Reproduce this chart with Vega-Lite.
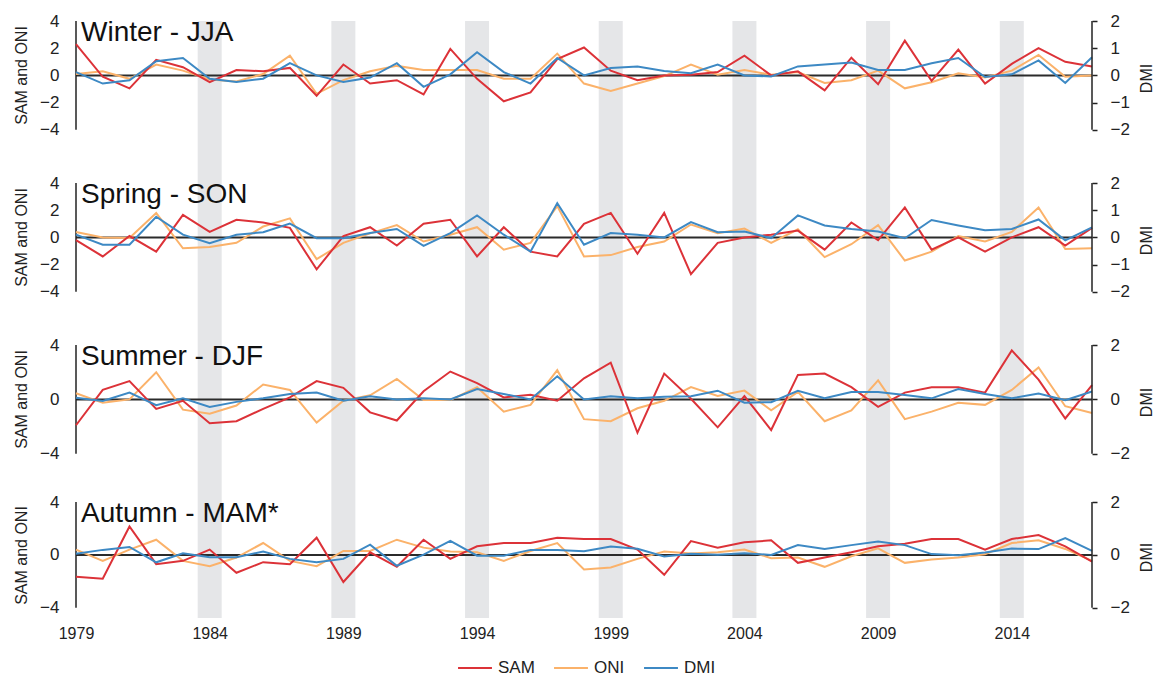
{
"$schema": "https://vega.github.io/schema/vega-lite/v6.json",
"padding": {"left": 13, "top": 9, "right": 0, "bottom": 0},
"background": "white",
"bounds": "flush",
"spacing": 0,
"config": {"view": {"stroke": null}, "font": "Liberation Sans"},
"datasets": {
"bands": [{"year":1984},{"year":1989},{"year":1994},{"year":1999},{"year":2004},{"year":2009},{"year":2014}],
"idx": [
{"season":"Winter","year":1979,"SAM":2.3,"ONI":0.1,"DMI":0.12},
{"season":"Winter","year":1980,"SAM":-0.1,"ONI":0.3,"DMI":-0.3},
{"season":"Winter","year":1981,"SAM":-0.95,"ONI":-0.25,"DMI":-0.18},
{"season":"Winter","year":1982,"SAM":1.15,"ONI":0.8,"DMI":0.52},
{"season":"Winter","year":1983,"SAM":0.6,"ONI":0.35,"DMI":0.64},
{"season":"Winter","year":1984,"SAM":-0.5,"ONI":-0.3,"DMI":-0.12},
{"season":"Winter","year":1985,"SAM":0.4,"ONI":-0.45,"DMI":-0.24},
{"season":"Winter","year":1986,"SAM":0.3,"ONI":0.1,"DMI":-0.12},
{"season":"Winter","year":1987,"SAM":0.55,"ONI":1.45,"DMI":0.45},
{"season":"Winter","year":1988,"SAM":-1.5,"ONI":-1.35,"DMI":0},
{"season":"Winter","year":1989,"SAM":0.8,"ONI":-0.35,"DMI":-0.24},
{"season":"Winter","year":1990,"SAM":-0.6,"ONI":0.3,"DMI":-0.08},
{"season":"Winter","year":1991,"SAM":-0.35,"ONI":0.7,"DMI":0.45},
{"season":"Winter","year":1992,"SAM":-1.4,"ONI":0.4,"DMI":-0.42},
{"season":"Winter","year":1993,"SAM":1.95,"ONI":0.4,"DMI":0.04},
{"season":"Winter","year":1994,"SAM":-0.25,"ONI":0.4,"DMI":0.85},
{"season":"Winter","year":1995,"SAM":-1.9,"ONI":-0.25,"DMI":0.12},
{"season":"Winter","year":1996,"SAM":-1.25,"ONI":-0.25,"DMI":-0.3},
{"season":"Winter","year":1997,"SAM":1.2,"ONI":1.6,"DMI":0.64},
{"season":"Winter","year":1998,"SAM":2.05,"ONI":-0.6,"DMI":0},
{"season":"Winter","year":1999,"SAM":0.35,"ONI":-1.15,"DMI":0.27},
{"season":"Winter","year":2000,"SAM":-0.35,"ONI":-0.6,"DMI":0.33},
{"season":"Winter","year":2001,"SAM":0,"ONI":-0.05,"DMI":0.16},
{"season":"Winter","year":2002,"SAM":0.05,"ONI":0.8,"DMI":0.08},
{"season":"Winter","year":2003,"SAM":0.25,"ONI":0.05,"DMI":0.4},
{"season":"Winter","year":2004,"SAM":1.45,"ONI":0.4,"DMI":0},
{"season":"Winter","year":2005,"SAM":0,"ONI":0.05,"DMI":-0.04},
{"season":"Winter","year":2006,"SAM":0.3,"ONI":0.25,"DMI":0.33},
{"season":"Winter","year":2007,"SAM":-1.1,"ONI":-0.55,"DMI":0.4},
{"season":"Winter","year":2008,"SAM":1.3,"ONI":-0.35,"DMI":0.47},
{"season":"Winter","year":2009,"SAM":-0.65,"ONI":0.35,"DMI":0.2},
{"season":"Winter","year":2010,"SAM":2.55,"ONI":-0.95,"DMI":0.2},
{"season":"Winter","year":2011,"SAM":-0.4,"ONI":-0.5,"DMI":0.45},
{"season":"Winter","year":2012,"SAM":1.9,"ONI":0.15,"DMI":0.64},
{"season":"Winter","year":2013,"SAM":-0.6,"ONI":-0.15,"DMI":-0.06},
{"season":"Winter","year":2014,"SAM":0.85,"ONI":0.35,"DMI":0.04},
{"season":"Winter","year":2015,"SAM":2.0,"ONI":1.5,"DMI":0.55},
{"season":"Winter","year":2016,"SAM":1.0,"ONI":-0.1,"DMI":-0.28},
{"season":"Winter","year":2017,"SAM":0.65,"ONI":0,"DMI":0.67},
{"season":"Spring","year":1979,"SAM":-0.2,"ONI":0.4,"DMI":0.1},
{"season":"Spring","year":1980,"SAM":-1.4,"ONI":0,"DMI":-0.27},
{"season":"Spring","year":1981,"SAM":0.1,"ONI":-0.05,"DMI":-0.27},
{"season":"Spring","year":1982,"SAM":-1.05,"ONI":1.8,"DMI":0.76},
{"season":"Spring","year":1983,"SAM":1.65,"ONI":-0.8,"DMI":0.1},
{"season":"Spring","year":1984,"SAM":0.4,"ONI":-0.7,"DMI":-0.21},
{"season":"Spring","year":1985,"SAM":1.3,"ONI":-0.4,"DMI":0.1},
{"season":"Spring","year":1986,"SAM":1.1,"ONI":0.8,"DMI":0.19},
{"season":"Spring","year":1987,"SAM":0.7,"ONI":1.4,"DMI":0.51},
{"season":"Spring","year":1988,"SAM":-2.35,"ONI":-1.6,"DMI":-0.03},
{"season":"Spring","year":1989,"SAM":0.1,"ONI":-0.4,"DMI":-0.03},
{"season":"Spring","year":1990,"SAM":0.75,"ONI":0.3,"DMI":0.16},
{"season":"Spring","year":1991,"SAM":-0.6,"ONI":0.9,"DMI":0.31},
{"season":"Spring","year":1992,"SAM":1.0,"ONI":-0.3,"DMI":-0.31},
{"season":"Spring","year":1993,"SAM":1.3,"ONI":0.2,"DMI":0.16},
{"season":"Spring","year":1994,"SAM":-1.4,"ONI":0.75,"DMI":0.81},
{"season":"Spring","year":1995,"SAM":0.75,"ONI":-0.9,"DMI":0.1},
{"season":"Spring","year":1996,"SAM":-1.05,"ONI":-0.4,"DMI":-0.52},
{"season":"Spring","year":1997,"SAM":-1.4,"ONI":2.3,"DMI":1.26},
{"season":"Spring","year":1998,"SAM":1.0,"ONI":-1.4,"DMI":-0.27},
{"season":"Spring","year":1999,"SAM":1.8,"ONI":-1.3,"DMI":0.16},
{"season":"Spring","year":2000,"SAM":-1.2,"ONI":-0.7,"DMI":0.1},
{"season":"Spring","year":2001,"SAM":1.8,"ONI":-0.3,"DMI":0},
{"season":"Spring","year":2002,"SAM":-2.7,"ONI":0.95,"DMI":0.56},
{"season":"Spring","year":2003,"SAM":-0.4,"ONI":0.3,"DMI":0.19},
{"season":"Spring","year":2004,"SAM":0,"ONI":0.65,"DMI":0.22},
{"season":"Spring","year":2005,"SAM":0.2,"ONI":-0.4,"DMI":-0.03},
{"season":"Spring","year":2006,"SAM":0.5,"ONI":0.6,"DMI":0.81},
{"season":"Spring","year":2007,"SAM":-0.9,"ONI":-1.45,"DMI":0.44},
{"season":"Spring","year":2008,"SAM":1.1,"ONI":-0.5,"DMI":0.31},
{"season":"Spring","year":2009,"SAM":-0.2,"ONI":0.9,"DMI":0.22},
{"season":"Spring","year":2010,"SAM":2.2,"ONI":-1.7,"DMI":-0.03},
{"season":"Spring","year":2011,"SAM":-0.9,"ONI":-1.05,"DMI":0.64},
{"season":"Spring","year":2012,"SAM":0,"ONI":0.1,"DMI":0.44},
{"season":"Spring","year":2013,"SAM":-1.05,"ONI":-0.3,"DMI":0.26},
{"season":"Spring","year":2014,"SAM":0,"ONI":0.4,"DMI":0.31},
{"season":"Spring","year":2015,"SAM":0.75,"ONI":2.2,"DMI":0.66},
{"season":"Spring","year":2016,"SAM":-0.6,"ONI":-0.85,"DMI":-0.11},
{"season":"Spring","year":2017,"SAM":0.7,"ONI":-0.8,"DMI":0.37},
{"season":"Summer","year":1979,"SAM":-1.9,"ONI":0.45,"DMI":0.06},
{"season":"Summer","year":1980,"SAM":0.7,"ONI":-0.25,"DMI":-0.06},
{"season":"Summer","year":1981,"SAM":1.35,"ONI":0,"DMI":0.25},
{"season":"Summer","year":1982,"SAM":-0.7,"ONI":2.0,"DMI":-0.21},
{"season":"Summer","year":1983,"SAM":-0.1,"ONI":-0.75,"DMI":0.04},
{"season":"Summer","year":1984,"SAM":-1.75,"ONI":-1.05,"DMI":-0.28},
{"season":"Summer","year":1985,"SAM":-1.6,"ONI":-0.45,"DMI":-0.09},
{"season":"Summer","year":1986,"SAM":-0.7,"ONI":1.1,"DMI":0.04},
{"season":"Summer","year":1987,"SAM":0.15,"ONI":0.7,"DMI":0.2},
{"season":"Summer","year":1988,"SAM":1.35,"ONI":-1.7,"DMI":0.25},
{"season":"Summer","year":1989,"SAM":0.85,"ONI":-0.1,"DMI":-0.05},
{"season":"Summer","year":1990,"SAM":-0.95,"ONI":0.3,"DMI":0.12},
{"season":"Summer","year":1991,"SAM":-1.55,"ONI":1.5,"DMI":0},
{"season":"Summer","year":1992,"SAM":0.6,"ONI":-0.05,"DMI":0.04},
{"season":"Summer","year":1993,"SAM":2.05,"ONI":-0.05,"DMI":0},
{"season":"Summer","year":1994,"SAM":1.2,"ONI":0.9,"DMI":0.38},
{"season":"Summer","year":1995,"SAM":0.15,"ONI":-0.9,"DMI":0.2},
{"season":"Summer","year":1996,"SAM":0.35,"ONI":-0.4,"DMI":0},
{"season":"Summer","year":1997,"SAM":-0.1,"ONI":2.15,"DMI":0.85},
{"season":"Summer","year":1998,"SAM":1.55,"ONI":-1.45,"DMI":0},
{"season":"Summer","year":1999,"SAM":2.7,"ONI":-1.6,"DMI":0.12},
{"season":"Summer","year":2000,"SAM":-2.45,"ONI":-0.65,"DMI":0.04},
{"season":"Summer","year":2001,"SAM":1.9,"ONI":-0.1,"DMI":0.1},
{"season":"Summer","year":2002,"SAM":0.05,"ONI":0.9,"DMI":0.12},
{"season":"Summer","year":2003,"SAM":-2.05,"ONI":0.25,"DMI":0.32},
{"season":"Summer","year":2004,"SAM":0.25,"ONI":0.65,"DMI":-0.12},
{"season":"Summer","year":2005,"SAM":-2.25,"ONI":-0.8,"DMI":-0.1},
{"season":"Summer","year":2006,"SAM":1.8,"ONI":0.55,"DMI":0.32},
{"season":"Summer","year":2007,"SAM":1.9,"ONI":-1.6,"DMI":0.04},
{"season":"Summer","year":2008,"SAM":0.9,"ONI":-0.8,"DMI":0.27},
{"season":"Summer","year":2009,"SAM":-0.55,"ONI":1.4,"DMI":0.27},
{"season":"Summer","year":2010,"SAM":0.5,"ONI":-1.45,"DMI":0.16},
{"season":"Summer","year":2011,"SAM":0.9,"ONI":-0.9,"DMI":0.04},
{"season":"Summer","year":2012,"SAM":0.9,"ONI":-0.25,"DMI":0.38},
{"season":"Summer","year":2013,"SAM":0.5,"ONI":-0.4,"DMI":0.2},
{"season":"Summer","year":2014,"SAM":3.6,"ONI":0.7,"DMI":0.04},
{"season":"Summer","year":2015,"SAM":1.45,"ONI":2.35,"DMI":0.22},
{"season":"Summer","year":2016,"SAM":-1.4,"ONI":-0.5,"DMI":-0.03},
{"season":"Summer","year":2017,"SAM":1.05,"ONI":-1.0,"DMI":0.29},
{"season":"Autumn","year":1979,"SAM":-1.65,"ONI":0.4,"DMI":0.04},
{"season":"Autumn","year":1980,"SAM":-1.8,"ONI":-0.45,"DMI":0.19},
{"season":"Autumn","year":1981,"SAM":2.15,"ONI":0.4,"DMI":0.3},
{"season":"Autumn","year":1982,"SAM":-0.7,"ONI":1.15,"DMI":-0.28},
{"season":"Autumn","year":1983,"SAM":-0.45,"ONI":-0.45,"DMI":0.06},
{"season":"Autumn","year":1984,"SAM":0.4,"ONI":-0.85,"DMI":-0.09},
{"season":"Autumn","year":1985,"SAM":-1.35,"ONI":-0.2,"DMI":-0.09},
{"season":"Autumn","year":1986,"SAM":-0.55,"ONI":0.9,"DMI":0.13},
{"season":"Autumn","year":1987,"SAM":-0.7,"ONI":-0.45,"DMI":-0.15},
{"season":"Autumn","year":1988,"SAM":1.3,"ONI":-0.85,"DMI":-0.28},
{"season":"Autumn","year":1989,"SAM":-2.05,"ONI":0.3,"DMI":-0.15},
{"season":"Autumn","year":1990,"SAM":0.2,"ONI":0.3,"DMI":0.39},
{"season":"Autumn","year":1991,"SAM":-0.9,"ONI":1.15,"DMI":-0.41},
{"season":"Autumn","year":1992,"SAM":1.15,"ONI":0.55,"DMI":0.01},
{"season":"Autumn","year":1993,"SAM":-0.3,"ONI":0.25,"DMI":0.53},
{"season":"Autumn","year":1994,"SAM":0.65,"ONI":0.2,"DMI":-0.03},
{"season":"Autumn","year":1995,"SAM":0.9,"ONI":-0.45,"DMI":-0.03},
{"season":"Autumn","year":1996,"SAM":0.9,"ONI":0.3,"DMI":0.19},
{"season":"Autumn","year":1997,"SAM":1.3,"ONI":0.9,"DMI":0.19},
{"season":"Autumn","year":1998,"SAM":1.2,"ONI":-1.1,"DMI":0.14},
{"season":"Autumn","year":1999,"SAM":1.2,"ONI":-0.95,"DMI":0.32},
{"season":"Autumn","year":2000,"SAM":0.4,"ONI":-0.3,"DMI":0.23},
{"season":"Autumn","year":2001,"SAM":-1.5,"ONI":0.25,"DMI":-0.06},
{"season":"Autumn","year":2002,"SAM":1.05,"ONI":0.1,"DMI":0.04},
{"season":"Autumn","year":2003,"SAM":0.55,"ONI":0.2,"DMI":0.01},
{"season":"Autumn","year":2004,"SAM":0.95,"ONI":0.4,"DMI":0.06},
{"season":"Autumn","year":2005,"SAM":1.1,"ONI":-0.25,"DMI":0},
{"season":"Autumn","year":2006,"SAM":-0.6,"ONI":-0.2,"DMI":0.37},
{"season":"Autumn","year":2007,"SAM":-0.2,"ONI":-0.9,"DMI":0.22},
{"season":"Autumn","year":2008,"SAM":0.2,"ONI":-0.1,"DMI":0.37},
{"season":"Autumn","year":2009,"SAM":0.65,"ONI":0.5,"DMI":0.51},
{"season":"Autumn","year":2010,"SAM":0.85,"ONI":-0.6,"DMI":0.37},
{"season":"Autumn","year":2011,"SAM":1.2,"ONI":-0.35,"DMI":0.03},
{"season":"Autumn","year":2012,"SAM":1.2,"ONI":-0.2,"DMI":-0.01},
{"season":"Autumn","year":2013,"SAM":0.4,"ONI":0.05,"DMI":0.09},
{"season":"Autumn","year":2014,"SAM":1.2,"ONI":0.9,"DMI":0.24},
{"season":"Autumn","year":2015,"SAM":1.5,"ONI":1.1,"DMI":0.22},
{"season":"Autumn","year":2016,"SAM":0.65,"ONI":0.45,"DMI":0.64},
{"season":"Autumn","year":2017,"SAM":-0.5,"ONI":-0.45,"DMI":0.15}
]
},
"vconcat": [
{
"width": 1016, "height": 162,
"layer": [
{"layer": [
{"data": {"name": "bands"}, "mark": {"type": "rule", "strokeWidth": 24, "color": "#e5e6e8"},
 "encoding": {"x": {"field": "year", "type": "quantitative", "scale": {"domain": [1979, 2017], "nice": false, "zero": false}, "axis": null}}},
{"data": {"values": [{}]}, "mark": {"type": "rule", "color": "#2b2b2b", "strokeWidth": 2},
 "encoding": {"y": {"datum": 0, "type": "quantitative", "scale": {"domain": [-7.91, 4], "nice": false},
   "axis": {"values": [-4, -2, 0, 2, 4], "domain": false, "ticks": false, "tickSize": 0, "grid": false, "labelPadding": 17, "labelFontSize": 17, "labelFont": "Liberation Sans", "labelColor": "#222222", "title": "SAM and ONI", "titleFontSize": 16, "titleFontWeight": "normal", "titleColor": "#222222", "titleAngle": 270, "titleX": -55, "titleY": 54, "titleAlign": "center", "titleBaseline": "middle"}}}},
{"data": {"values": [{}]}, "mark": {"type": "rule", "color": "#222222", "strokeWidth": 1.5},
 "encoding": {"x": {"datum": 1979, "type": "quantitative", "axis": null}, "y": {"datum": 4, "type": "quantitative"}, "y2": {"datum": -4}}},
{"data": {"name": "idx"}, "transform": [{"filter": "datum.season === 'Winter'"}], "mark": {"type": "line", "strokeWidth": 2},
 "encoding": {"x": {"field": "year", "type": "quantitative", "axis": null},
  "y": {"field": "ONI", "type": "quantitative"},
  "color": {"datum": "ONI", "type": "nominal", "scale": {"domain": ["SAM", "ONI", "DMI"], "range": ["#dc3238", "#fbb26a", "#3d89c4"]}}}},
{"data": {"name": "idx"}, "transform": [{"filter": "datum.season === 'Winter'"}], "mark": {"type": "line", "strokeWidth": 2},
 "encoding": {"x": {"field": "year", "type": "quantitative", "axis": null},
  "y": {"field": "SAM", "type": "quantitative"},
  "color": {"datum": "SAM", "type": "nominal"}}},
{"data": {"values": [{}]}, "mark": {"type": "text", "text": "Winter - JJA", "align": "left", "baseline": "alphabetic", "fontSize": 28, "font": "Liberation Sans", "color": "#111111", "dx": 5, "dy": 20},
 "encoding": {"x": {"datum": 1979, "type": "quantitative", "axis": null}, "y": {"datum": 4, "type": "quantitative"}}}
]},
{"layer": [
{"data": {"name": "idx"}, "transform": [{"filter": "datum.season === 'Winter'"}], "mark": {"type": "line", "strokeWidth": 2},
 "encoding": {"x": {"field": "year", "type": "quantitative", "axis": null},
  "y": {"field": "DMI", "type": "quantitative", "scale": {"domain": [-3.955, 2], "nice": false},
   "axis": {"orient": "right", "values": [-2, -1, 0, 1, 2], "domain": false, "ticks": true, "tickSize": 5, "tickWidth": 1.5, "tickColor": "#222222", "grid": false, "labelPadding": 13, "labelFontSize": 17, "labelFont": "Liberation Sans", "labelColor": "#222222", "title": "DMI", "titleFontSize": 16, "titleFontWeight": "normal", "titleColor": "#222222", "titleAngle": 270, "titleX": 54, "titleY": 57, "titleAlign": "center", "titleBaseline": "middle"}},
  "color": {"datum": "DMI", "type": "nominal"}}},
{"data": {"values": [{}]}, "mark": {"type": "rule", "color": "#222222", "strokeWidth": 1.5},
 "encoding": {"x": {"datum": 2017, "type": "quantitative", "axis": null}, "y": {"datum": 2, "type": "quantitative"}, "y2": {"datum": -2}}}
]}
],
"resolve": {"scale": {"y": "independent"}}
},
{
"width": 1016, "height": 162,
"layer": [
{"layer": [
{"data": {"name": "bands"}, "mark": {"type": "rule", "strokeWidth": 24, "color": "#e5e6e8"},
 "encoding": {"x": {"field": "year", "type": "quantitative", "scale": {"domain": [1979, 2017], "nice": false, "zero": false}, "axis": null}}},
{"data": {"values": [{}]}, "mark": {"type": "rule", "color": "#2b2b2b", "strokeWidth": 2},
 "encoding": {"y": {"datum": 0, "type": "quantitative", "scale": {"domain": [-7.91, 4], "nice": false},
   "axis": {"values": [-4, -2, 0, 2, 4], "domain": false, "ticks": false, "tickSize": 0, "grid": false, "labelPadding": 17, "labelFontSize": 17, "labelFont": "Liberation Sans", "labelColor": "#222222", "title": "SAM and ONI", "titleFontSize": 16, "titleFontWeight": "normal", "titleColor": "#222222", "titleAngle": 270, "titleX": -55, "titleY": 54, "titleAlign": "center", "titleBaseline": "middle"}}}},
{"data": {"values": [{}]}, "mark": {"type": "rule", "color": "#222222", "strokeWidth": 1.5},
 "encoding": {"x": {"datum": 1979, "type": "quantitative", "axis": null}, "y": {"datum": 4, "type": "quantitative"}, "y2": {"datum": -4}}},
{"data": {"name": "idx"}, "transform": [{"filter": "datum.season === 'Spring'"}], "mark": {"type": "line", "strokeWidth": 2},
 "encoding": {"x": {"field": "year", "type": "quantitative", "axis": null},
  "y": {"field": "ONI", "type": "quantitative"},
  "color": {"datum": "ONI", "type": "nominal", "scale": {"domain": ["SAM", "ONI", "DMI"], "range": ["#dc3238", "#fbb26a", "#3d89c4"]}}}},
{"data": {"name": "idx"}, "transform": [{"filter": "datum.season === 'Spring'"}], "mark": {"type": "line", "strokeWidth": 2},
 "encoding": {"x": {"field": "year", "type": "quantitative", "axis": null},
  "y": {"field": "SAM", "type": "quantitative"},
  "color": {"datum": "SAM", "type": "nominal"}}},
{"data": {"values": [{}]}, "mark": {"type": "text", "text": "Spring - SON", "align": "left", "baseline": "alphabetic", "fontSize": 28, "font": "Liberation Sans", "color": "#111111", "dx": 5, "dy": 20},
 "encoding": {"x": {"datum": 1979, "type": "quantitative", "axis": null}, "y": {"datum": 4, "type": "quantitative"}}}
]},
{"layer": [
{"data": {"name": "idx"}, "transform": [{"filter": "datum.season === 'Spring'"}], "mark": {"type": "line", "strokeWidth": 2},
 "encoding": {"x": {"field": "year", "type": "quantitative", "axis": null},
  "y": {"field": "DMI", "type": "quantitative", "scale": {"domain": [-3.955, 2], "nice": false},
   "axis": {"orient": "right", "values": [-2, -1, 0, 1, 2], "domain": false, "ticks": true, "tickSize": 5, "tickWidth": 1.5, "tickColor": "#222222", "grid": false, "labelPadding": 13, "labelFontSize": 17, "labelFont": "Liberation Sans", "labelColor": "#222222", "title": "DMI", "titleFontSize": 16, "titleFontWeight": "normal", "titleColor": "#222222", "titleAngle": 270, "titleX": 54, "titleY": 57, "titleAlign": "center", "titleBaseline": "middle"}},
  "color": {"datum": "DMI", "type": "nominal"}}},
{"data": {"values": [{}]}, "mark": {"type": "rule", "color": "#222222", "strokeWidth": 1.5},
 "encoding": {"x": {"datum": 2017, "type": "quantitative", "axis": null}, "y": {"datum": 2, "type": "quantitative"}, "y2": {"datum": -2}}}
]}
],
"resolve": {"scale": {"y": "independent"}}
},
{
"width": 1016, "height": 157,
"layer": [
{"layer": [
{"data": {"name": "bands"}, "mark": {"type": "rule", "strokeWidth": 24, "color": "#e5e6e8"},
 "encoding": {"x": {"field": "year", "type": "quantitative", "scale": {"domain": [1979, 2017], "nice": false, "zero": false}, "axis": null}}},
{"data": {"values": [{}]}, "mark": {"type": "rule", "color": "#2b2b2b", "strokeWidth": 2},
 "encoding": {"y": {"datum": 0, "type": "quantitative", "scale": {"domain": [-7.54, 4], "nice": false},
   "axis": {"values": [-4, -2, 0, 2, 4], "domain": false, "ticks": false, "tickSize": 0, "grid": false, "labelPadding": 17, "labelFontSize": 17, "labelFont": "Liberation Sans", "labelColor": "#222222", "title": "SAM and ONI", "titleFontSize": 16, "titleFontWeight": "normal", "titleColor": "#222222", "titleAngle": 270, "titleX": -55, "titleY": 54, "titleAlign": "center", "titleBaseline": "middle"}}}},
{"data": {"values": [{}]}, "mark": {"type": "rule", "color": "#222222", "strokeWidth": 1.5},
 "encoding": {"x": {"datum": 1979, "type": "quantitative", "axis": null}, "y": {"datum": 4, "type": "quantitative"}, "y2": {"datum": -4}}},
{"data": {"name": "idx"}, "transform": [{"filter": "datum.season === 'Summer'"}], "mark": {"type": "line", "strokeWidth": 2},
 "encoding": {"x": {"field": "year", "type": "quantitative", "axis": null},
  "y": {"field": "ONI", "type": "quantitative"},
  "color": {"datum": "ONI", "type": "nominal", "scale": {"domain": ["SAM", "ONI", "DMI"], "range": ["#dc3238", "#fbb26a", "#3d89c4"]}}}},
{"data": {"name": "idx"}, "transform": [{"filter": "datum.season === 'Summer'"}], "mark": {"type": "line", "strokeWidth": 2},
 "encoding": {"x": {"field": "year", "type": "quantitative", "axis": null},
  "y": {"field": "SAM", "type": "quantitative"},
  "color": {"datum": "SAM", "type": "nominal"}}},
{"data": {"values": [{}]}, "mark": {"type": "text", "text": "Summer - DJF", "align": "left", "baseline": "alphabetic", "fontSize": 28, "font": "Liberation Sans", "color": "#111111", "dx": 5, "dy": 20},
 "encoding": {"x": {"datum": 1979, "type": "quantitative", "axis": null}, "y": {"datum": 4, "type": "quantitative"}}}
]},
{"layer": [
{"data": {"name": "idx"}, "transform": [{"filter": "datum.season === 'Summer'"}], "mark": {"type": "line", "strokeWidth": 2},
 "encoding": {"x": {"field": "year", "type": "quantitative", "axis": null},
  "y": {"field": "DMI", "type": "quantitative", "scale": {"domain": [-3.77, 2], "nice": false},
   "axis": {"orient": "right", "values": [-2, -1, 0, 1, 2], "domain": false, "ticks": true, "tickSize": 5, "tickWidth": 1.5, "tickColor": "#222222", "grid": false, "labelPadding": 13, "labelFontSize": 17, "labelFont": "Liberation Sans", "labelColor": "#222222", "title": "DMI", "titleFontSize": 16, "titleFontWeight": "normal", "titleColor": "#222222", "titleAngle": 270, "titleX": 54, "titleY": 57, "titleAlign": "center", "titleBaseline": "middle"}},
  "color": {"datum": "DMI", "type": "nominal"}}},
{"data": {"values": [{}]}, "mark": {"type": "rule", "color": "#222222", "strokeWidth": 1.5},
 "encoding": {"x": {"datum": 2017, "type": "quantitative", "axis": null}, "y": {"datum": 2, "type": "quantitative"}, "y2": {"datum": -2}}}
]}
],
"resolve": {"scale": {"y": "independent"}}
},
{
"width": 1016, "height": 116,
"layer": [
{"layer": [
{"data": {"name": "bands"}, "mark": {"type": "rule", "strokeWidth": 24, "color": "#e5e6e8"},
 "encoding": {"x": {"field": "year", "type": "quantitative", "scale": {"domain": [1979, 2017], "nice": false, "zero": false},
  "axis": {"values": [1979, 1984, 1989, 1994, 1999, 2004, 2009, 2014], "format": "d", "domain": false, "ticks": false, "tickSize": 0, "grid": false, "labelFlush": false, "labelOverlap": false, "labelPadding": 7, "labelFontSize": 16, "labelFont": "Liberation Sans", "labelColor": "#222222", "title": null}}}},
{"data": {"values": [{}]}, "mark": {"type": "rule", "color": "#2b2b2b", "strokeWidth": 2},
 "encoding": {"y": {"datum": 0, "type": "quantitative", "scale": {"domain": [-4.77, 4], "nice": false},
   "axis": {"values": [-4, -2, 0, 2, 4], "domain": false, "ticks": false, "tickSize": 0, "grid": false, "labelPadding": 17, "labelFontSize": 17, "labelFont": "Liberation Sans", "labelColor": "#222222", "title": "SAM and ONI", "titleFontSize": 16, "titleFontWeight": "normal", "titleColor": "#222222", "titleAngle": 270, "titleX": -55, "titleY": 53, "titleAlign": "center", "titleBaseline": "middle"}}}},
{"data": {"values": [{}]}, "mark": {"type": "rule", "color": "#222222", "strokeWidth": 1.5},
 "encoding": {"x": {"datum": 1979, "type": "quantitative"}, "y": {"datum": 4, "type": "quantitative"}, "y2": {"datum": -4}}},
{"data": {"name": "idx"}, "transform": [{"filter": "datum.season === 'Autumn'"}], "mark": {"type": "line", "strokeWidth": 2},
 "encoding": {"x": {"field": "year", "type": "quantitative"},
  "y": {"field": "ONI", "type": "quantitative"},
  "color": {"datum": "ONI", "type": "nominal", "scale": {"domain": ["SAM", "ONI", "DMI"], "range": ["#dc3238", "#fbb26a", "#3d89c4"]},
   "legend": {"orient": "none", "legendX": 381, "legendY": 629, "direction": "horizontal", "title": null, "symbolType": "stroke", "symbolSize": 1150, "symbolStrokeWidth": 2, "labelFontSize": 17, "labelFont": "Liberation Sans", "labelColor": "#222222", "labelOffset": 5, "columnPadding": 15}}}},
{"data": {"name": "idx"}, "transform": [{"filter": "datum.season === 'Autumn'"}], "mark": {"type": "line", "strokeWidth": 2},
 "encoding": {"x": {"field": "year", "type": "quantitative"},
  "y": {"field": "SAM", "type": "quantitative"},
  "color": {"datum": "SAM", "type": "nominal"}}},
{"data": {"values": [{}]}, "mark": {"type": "text", "text": "Autumn - MAM*", "align": "left", "baseline": "alphabetic", "fontSize": 28, "font": "Liberation Sans", "color": "#111111", "dx": 5, "dy": 20},
 "encoding": {"x": {"datum": 1979, "type": "quantitative"}, "y": {"datum": 4, "type": "quantitative"}}}
]},
{"layer": [
{"data": {"name": "idx"}, "transform": [{"filter": "datum.season === 'Autumn'"}], "mark": {"type": "line", "strokeWidth": 2},
 "encoding": {"x": {"field": "year", "type": "quantitative"},
  "y": {"field": "DMI", "type": "quantitative", "scale": {"domain": [-2.385, 2], "nice": false},
   "axis": {"orient": "right", "values": [-2, -1, 0, 1, 2], "domain": false, "ticks": true, "tickSize": 5, "tickWidth": 1.5, "tickColor": "#222222", "grid": false, "labelPadding": 13, "labelFontSize": 17, "labelFont": "Liberation Sans", "labelColor": "#222222", "title": "DMI", "titleFontSize": 16, "titleFontWeight": "normal", "titleColor": "#222222", "titleAngle": 270, "titleX": 54, "titleY": 55, "titleAlign": "center", "titleBaseline": "middle"}},
  "color": {"datum": "DMI", "type": "nominal"}}},
{"data": {"values": [{}]}, "mark": {"type": "rule", "color": "#222222", "strokeWidth": 1.5},
 "encoding": {"x": {"datum": 2017, "type": "quantitative"}, "y": {"datum": 2, "type": "quantitative"}, "y2": {"datum": -2}}}
]}
],
"resolve": {"scale": {"y": "independent"}}
}
]
}
